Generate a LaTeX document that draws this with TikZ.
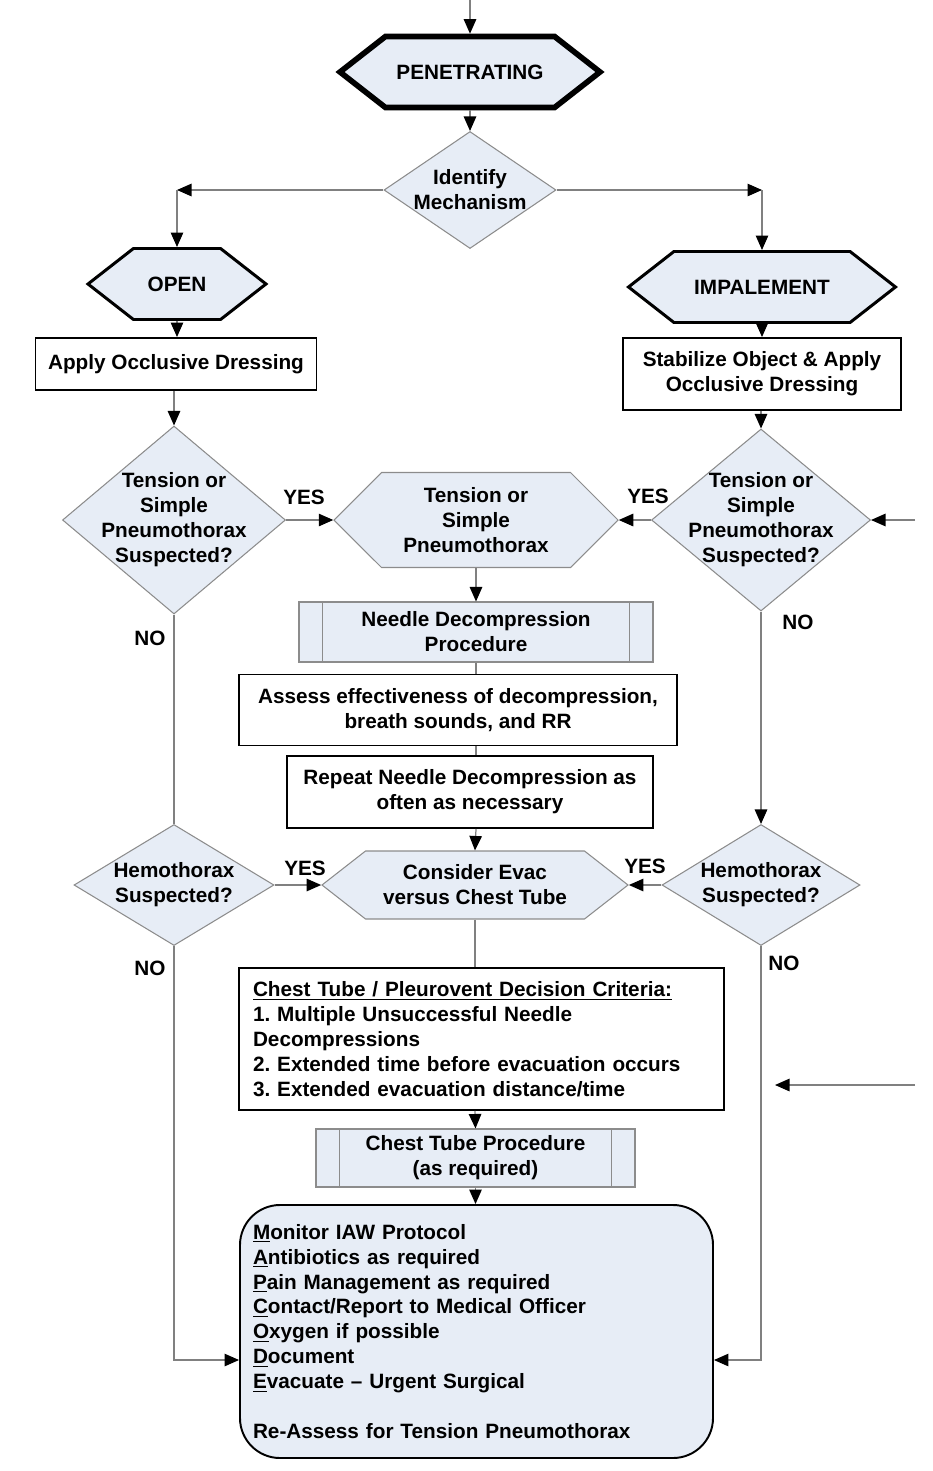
\documentclass[tikz,border=0pt]{standalone}
\usepackage{fontspec}
\setmainfont{Liberation Sans}
\usepackage{tikz}
\usetikzlibrary{arrows.meta,positioning,calc,shapes.geometric,shapes.symbols}
\definecolor{paleblue}{RGB}{231,237,246}
\definecolor{edgegray}{RGB}{140,140,140}
\definecolor{linegray}{RGB}{128,128,128}
\frenchspacing

\begin{document}
\begin{tikzpicture}[x=0.2mm,y=-0.2mm,>={Triangle[length=2.9mm,width=2.5mm,color=black]},
every node/.style={font=\fontsize{11.8}{14.2}\selectfont\bfseries},
hexa/.style={signal,signal to=west and east,fill=paleblue,inner sep=1pt,align=center},
casehex/.style={hexa,draw=black,line width=1.7pt,minimum height=14.2mm,signal pointer angle=76},
grayhex/.style={hexa,draw=edgegray,line width=0.6pt},
decision/.style={diamond,draw=edgegray,fill=paleblue,line width=0.6pt,inner sep=0pt},
stepbox/.style={rectangle,draw=black,line width=1.1pt,fill=white,align=center,inner sep=2pt},
proc/.style={rectangle,draw=edgegray,line width=0.6pt,fill=paleblue,align=center,inner sep=2pt,
  path picture={\draw[edgegray,line width=0.6pt] ([xshift=4.7mm]path picture bounding box.north west)--([xshift=4.7mm]path picture bounding box.south west)
  ([xshift=-4.7mm]path picture bounding box.north east)--([xshift=-4.7mm]path picture bounding box.south east);}},
answer/.style={inner sep=0pt},
flow/.style={->,draw=linegray,line width=0.7pt},
link/.style={draw=linegray,line width=0.7pt}]
\useasboundingbox (0,0) rectangle (932,1471);
\node[casehex,line width=3.2pt,minimum width=52mm] (pen) at (470,72) {PENETRATING};
\node[decision,minimum width=34.4mm,minimum height=23.4mm,label={[align=center]center:Identify\\Mechanism}] (idm) at (470,190) {};
\node[casehex,minimum width=35.6mm] (open) at (177,284) {OPEN};
\node[casehex,minimum width=53.4mm] (imp) at (762,287) {IMPALEMENT};
\node[stepbox,minimum width=56.2mm,minimum height=10.4mm] (aod) at (176,364) {Apply Occlusive Dressing};
\node[stepbox,minimum width=55.6mm,minimum height=14.4mm] (sod) at (762,374) {Stabilize Object \& Apply\\Occlusive Dressing};
\node[decision,minimum width=44.6mm,minimum height=37.6mm,label={[align=center]center:Tension or\\Simple\\Pneumothorax\\Suspected?}] (tpl) at (174,520) {};
\node[decision,minimum width=43.8mm,minimum height=36.4mm,label={[align=center]center:Tension or\\Simple\\Pneumothorax\\Suspected?}] (tpr) at (761,520) {};
\node[grayhex,minimum width=56.8mm,minimum height=19mm,signal pointer angle=90] (tsp) at (476,520) {Tension or\\Simple\\Pneumothorax};
\node[proc,minimum width=70.8mm,minimum height=12mm] (ndp) at (476,632) {Needle Decompression\\Procedure};
\node[stepbox,minimum width=87.6mm,minimum height=14.2mm] (aed) at (458,710) {Assess effectiveness of decompression,\\breath sounds, and RR};
\node[stepbox,minimum width=73.2mm,minimum height=14.4mm] (rnd) at (470,792) {Repeat Needle Decompression as\\often as necessary};
\node[grayhex,minimum width=61.2mm,minimum height=13.6mm,signal pointer angle=76] (cev) at (475,885) {Consider Evac\\versus Chest Tube};
\node[decision,minimum width=40mm,minimum height=24.2mm,label={[align=center]center:Hemothorax\\Suspected?}] (hsl) at (174,885) {};
\node[decision,minimum width=39.6mm,minimum height=24.2mm,label={[align=center]center:Hemothorax\\Suspected?}] (hsr) at (761,885) {};
\node[stepbox,align=left,text width=91.4mm,inner xsep=2.8mm,minimum height=28.4mm] (crit) at (481.5,1039)
{\underline{Chest Tube / Pleurovent Decision Criteria:}\\1. Multiple Unsuccessful Needle\\Decompressions\\2. Extended time before evacuation occurs\\3. Extended evacuation distance/time};
\node[proc,minimum width=63.8mm,minimum height=11.6mm] (ctp) at (475.5,1158) {Chest Tube Procedure\\(as required)};
\node[stepbox,fill=paleblue,rounded corners=8mm,align=left,text width=89.4mm,inner xsep=2.6mm,minimum height=50.6mm] (mon) at (476.5,1331.5)
{\underline{M}onitor IAW Protocol\\\underline{A}ntibiotics as required\\\underline{P}ain Management as required\\\underline{C}ontact/Report to Medical Officer\\\underline{O}xygen if possible\\\underline{D}ocument\\\underline{E}vacuate -- Urgent Surgical\\[14.2pt]Re-Assess for Tension Pneumothorax};
\node[answer] (yes1) at (304,497) {YES};
\node[answer] (yes2) at (648,496) {YES};
\node[answer] (no1) at (150,638) {NO};
\node[answer] (no2) at (798,622) {NO};
\node[answer] (yes3) at (305,868) {YES};
\node[answer] (yes4) at (645,866) {YES};
\node[answer] (no3) at (150,968) {NO};
\node[answer] (no4) at (784,963) {NO};
\coordinate (entry) at (470,0);
\coordinate (jl) at (177,190);
\coordinate (jr) at (762,190);
\coordinate (sidein) at (915,520);
\coordinate (bl) at (174,1360);
\coordinate (br) at (761,1360);
\coordinate (sidein2) at (915,1085);
\coordinate (sideend) at (775,1085);
\draw[flow] (entry)--(pen.north);
\draw[flow] (pen.south)--(idm.north);
\draw[flow] (idm.west)--(jl); \draw[flow] (jl)--(open.north);
\draw[flow] (idm.east)--(jr); \draw[flow] (jr)--(imp.north);
\draw[flow] (open.south)--(aod.north -| open.south);
\draw[flow] (imp.south)--(sod.north -| imp.south);
\draw[flow] (tpl.north |- aod.south)--(tpl.north);
\draw[flow] (tpr.north |- sod.south)--(tpr.north);
\draw[flow] (tpl.east)--(tsp.west);
\draw[flow] (tpr.west)--(tsp.east);
\draw[flow] (sidein)--(tpr.east);
\draw[flow] (tsp.south)--(ndp.north);
\draw[link] (ndp.south)--(ndp.south |- aed.north);
\draw[link] (ndp.south |- aed.south)--(ndp.south |- rnd.north);
\draw[flow] (ndp.south |- rnd.south)--(cev.north);
\draw[link] (tpl.south)--(hsl.north);
\draw[flow] (tpr.south)--(hsr.north);
\draw[flow] (hsl.east)--(cev.west);
\draw[flow] (hsr.west)--(cev.east);
\draw[link] (cev.south)--(cev.south |- crit.north);
\draw[flow] (cev.south |- crit.south)--(ctp.north);
\draw[flow] (ctp.south)--(mon.north -| ctp.south);
\draw[flow] (hsl.south)--(bl)--(bl -| mon.west);
\draw[flow] (hsr.south)--(br)--(br -| mon.east);
\draw[flow] (sidein2)--(sideend);
\end{tikzpicture}
\end{document}
